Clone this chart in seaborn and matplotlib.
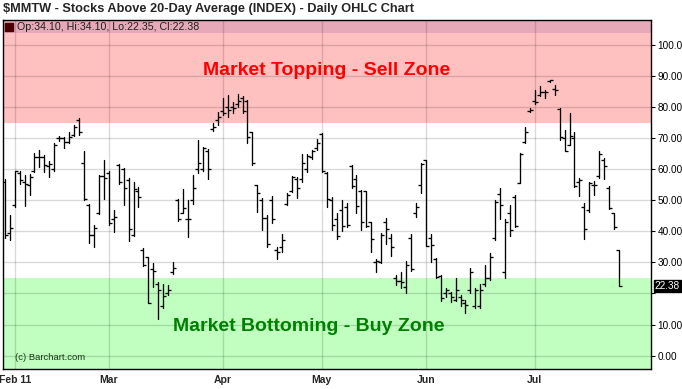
import numpy as np
import pandas as pd
import matplotlib
matplotlib.use("Agg")
import matplotlib.pyplot as plt
import seaborn as sns

# ---------------- data ----------------
opens = [56, 39.5, 48.5, 59, 56, 55, 59.5, 64, 64, 61, 60, 70, 70, 69, 71, 76, 62, 48.5, 39, 46,
         58, 59, 44, 61.5, 60, 56.5, 39, 53, 34, 31.8, 28, 23, 16, 20, 27, 50, 46, 44, 50, 60,
         60, 66, 73, 76, 79, 80, 80, 81, 83, 82, 72, 55, 50, 44.5, 50, 34, 35, 49, 53, 57,
         57, 60, 64, 67, 71.5, 59, 50, 44, 47, 48, 61, 57, 53, 53, 43, 30, 30, 43, 38, 25,
         24, 22, 38, 46, 55, 63, 38, 31, 25.5, 20, 20, 18, 19, 17, 21, 16, 16, 23, 25, 38,
         52, 27, 46, 51, 55.7, 69, 79, 82, 84, 85, 88.5, 86, 79.5, 70, 68, 70, 56, 48, 47, 55,
         58, 63, 54, 46, 34.10]
highs = [57, 45.3, 59.6, 59.6, 58.2, 58.5, 65.2, 66.3, 64.7, 62.7, 68.4, 70.8, 70.6, 72, 74.4, 76.5, 65.8, 49, 42.1, 58.3,
         62.9, 59.5, 46.9, 61.7, 60.4, 57.2, 56.1, 54.2, 34.6, 31.9, 29.7, 23.8, 23.1, 22.8, 30.3, 50.4, 53.6, 50.2, 58.2, 69.5,
         67.4, 66.5, 75.1, 78.4, 83, 84, 81.9, 84.2, 83.7, 82.4, 72.2, 55, 50.7, 45.3, 51.3, 35.1, 39.2, 52.5, 57.9, 57.7,
         64.9, 64.9, 66.3, 69.7, 71.7, 59.3, 51.2, 45.9, 50.2, 49.1, 61.5, 58.2, 53.4, 53.2, 43.2, 31, 39.6, 44.2, 39.2, 26,
         27, 30.6, 39.2, 49.3, 62, 63.1, 39.2, 31.3, 26, 21.7, 20.6, 24.9, 19.5, 17.9, 28.1, 21.7, 23, 29.2, 33.2, 50.2,
         53.9, 43.9, 48.5, 51.8, 65.2, 73.8, 79.7, 85.7, 86.9, 85.7, 89, 87.3, 79.7, 72.7, 78.1, 72.2, 57.2, 49.1, 56.1, 56.4,
         65.8, 63.6, 54.7, 46.1, 34.10]
lows = [38, 37.3, 48, 55.3, 48.2, 51.8, 59.3, 60.9, 59.3, 57.7, 59.6, 69.3, 66.8, 68.6, 70.8, 71.1, 50.2, 36.2, 35.1, 45.6,
        50.5, 42.1, 39.7, 55.3, 48.6, 36.8, 38.5, 48, 29, 16.8, 22.2, 11.7, 15.2, 19.5, 26.2, 43.5, 45.9, 38.1, 48.9, 59,
        59.6, 56.9, 72.5, 74.4, 77.6, 77, 78.3, 80.3, 78.1, 68.5, 61.5, 46.4, 40.5, 35.1, 42.6, 31, 33.5, 48.5, 52.8, 50.7,
        56.1, 59.3, 63.4, 66.3, 59.3, 48, 40.5, 37.5, 40, 41.6, 53.9, 46.1, 40.5, 41.6, 33.5, 27, 29.7, 36, 32.2, 22.7,
        21.7, 20, 27.4, 44.8, 52.5, 35.2, 30.3, 24.9, 17.7, 19, 17.1, 17.7, 16, 13.8, 20, 15.2, 15.2, 22.4, 24.2, 37.3,
        43.9, 24.9, 38.5, 41.6, 55.5, 68.4, 78.6, 81.1, 83.7, 83, 88.3, 84, 69.5, 65.8, 68, 54.5, 51.5, 37.5, 46.4, 51.8,
        57.2, 56.9, 47.2, 40.7, 22.35]
closes = [39, 41, 59.5, 56.6, 55.3, 57.7, 64, 63.9, 61.5, 61.7, 67.9, 70, 69, 70.4, 73.6, 72.2, 50.5, 38.9, 41, 58,
          57.2, 42.6, 44.8, 56, 53.9, 40.7, 53.6, 51.2, 29.2, 17, 27.3, 21, 19.3, 21.1, 28.1, 44, 47.5, 44, 54.1, 62.2,
          67, 60.2, 73.6, 77, 78.3, 79.2, 79.7, 82.2, 78.7, 70.4, 62, 52.3, 44.2, 36, 44, 33.5, 37.3, 51.8, 57.7, 54,
          62, 64.2, 65.8, 68.5, 59.6, 50.5, 42.1, 38.6, 41.8, 42.1, 54.7, 48.2, 43, 41.9, 37.5, 30.5, 39, 40.9, 35.1, 24.1,
          23.8, 29.2, 27.8, 47.8, 61.8, 35.3, 35.6, 25.4, 18.5, 21, 18.8, 21.2, 17.9, 16.3, 26.8, 21, 21, 24.9, 31.7, 49.6,
          48.5, 43, 40.5, 41.8, 65, 72.2, 79.2, 81.9, 85.1, 85.1, 88.9, 85.6, 70.4, 66.1, 70.8, 54.8, 56.7, 40.7, 55.7, 55,
          64.9, 61.1, 47.5, 41.3, 22.38]

holidays = ["2011-02-21", "2011-04-22", "2011-05-30", "2011-07-04"]
dates = [d for d in pd.bdate_range("2011-01-28", "2011-07-27")
         if d.strftime("%Y-%m-%d") not in holidays]
month_labels = ["Feb 11", "Mar", "Apr", "May", "Jun", "Jul"]
y_ticks = [0, 10, 20, 30, 40, 50, 60, 70, 80, 90, 100]
y_labels = ["0.00", "10.00", "", "30.00", "40.00", "50.00", "60.00", "70.00", "80.00", "90.00", "100.0"]
sell_zone = (75, 104)
buy_zone = 25
title = "$MMTW - Stocks Above 20-Day Average (INDEX) - Daily OHLC Chart"
legend_text = "Op:34.10, Hi:34.10, Lo:22.35, Cl:22.38"
last_value = "22.38"

# ---------------- frame ----------------
df = pd.DataFrame({"date": dates, "open": opens, "high": highs, "low": lows, "close": closes})
df["i"] = np.arange(len(df))
month_pos = df.groupby(df["date"].dt.to_period("M"))["i"].min().values[1:]

sns.set_theme(style="white")
plt.rcParams["font.family"] = ["Liberation Sans", "DejaVu Sans"]

fig = plt.figure(figsize=(6.82, 3.89), dpi=100)
ax = fig.add_axes([3 / 682, 1 - 369 / 389, 648 / 682, 349 / 389])
ymin, ymax = -4.35, 108.2
ax.set_xlim(-0.35, 130.45)
ax.set_ylim(ymin, ymax)

# zones
ax.axhspan(sell_zone[0], ymax, color="#ffc0c0", lw=0, zorder=0)
ax.axhspan(sell_zone[1], ymax, color="#e6a9b9", lw=0, zorder=0.1)
ax.axhspan(ymin, buy_zone, color="#c0ffc0", lw=0, zorder=0)

# grid
for yv in y_ticks:
    ax.axhline(yv, color="black", alpha=0.15, lw=1, zorder=0.5)
for xv in month_pos:
    ax.axvline(xv, color="black", alpha=0.15, lw=1, zorder=0.5)

# high-low bars via seaborn
hl = pd.concat([df[["i", "low"]].rename(columns={"low": "y"}),
                df[["i", "high"]].rename(columns={"high": "y"})]).sort_values("i", kind="stable")
sns.lineplot(data=hl, x="i", y="y", units="i", estimator=None, sort=False,
             color="black", lw=0.95, ax=ax, zorder=3)
ax.plot(df["i"], df["open"], ls="none", marker=0, ms=2.2, mew=0.95, color="black", zorder=3)
ax.plot(df["i"], df["close"], ls="none", marker=1, ms=2.2, mew=0.95, color="black", zorder=3)

# texts
ax.text(65.0, 91.8, "Market Topping - Sell Zone", color="#ff0000", fontsize=14,
        fontweight="bold", ha="center", va="center", zorder=4)
ax.text(61.4, 9.2, "Market Bottoming - Buy Zone", color="#008000", fontsize=14,
        fontweight="bold", ha="center", va="center", zorder=4)
ax.text(2.1, -0.5, "(c) Barchart.com", color="#1a3a1a", fontsize=6.8, ha="left", va="center", zorder=4)
ax.plot([0.9], [106.1], marker="s", ms=5.2, color="#4a0000", ls="none", zorder=4)
ax.text(2.4, 106.0, legend_text, fontsize=7.7, ha="left", va="center", color="#202020", zorder=4)

# axes
ax.set_xlabel("")
ax.set_ylabel("")
ax.yaxis.tick_right()
ax.set_yticks(y_ticks)
ax.set_yticklabels(y_labels)
ax.set_xticks(month_pos)
ax.set_xticklabels(month_labels, fontweight="bold")
ax.tick_params(axis="y", direction="out", length=3, width=0.8, pad=1.5, labelsize=7.2, colors="black")
ax.tick_params(axis="x", length=0, pad=4, labelsize=7.5)
for s in ax.spines.values():
    s.set_color("black")
    s.set_linewidth(1)
ax.text(1.006, 22.38, last_value, transform=ax.get_yaxis_transform(), fontsize=7.2,
        color="white", ha="left", va="center",
        bbox=dict(boxstyle="square,pad=0.1", fc="black", ec="black"))

fig.text(3 / 682, 1 - 9 / 389, title, fontsize=9.2, fontweight="bold", ha="left", va="center")

fig.savefig("out.png", dpi=100)
